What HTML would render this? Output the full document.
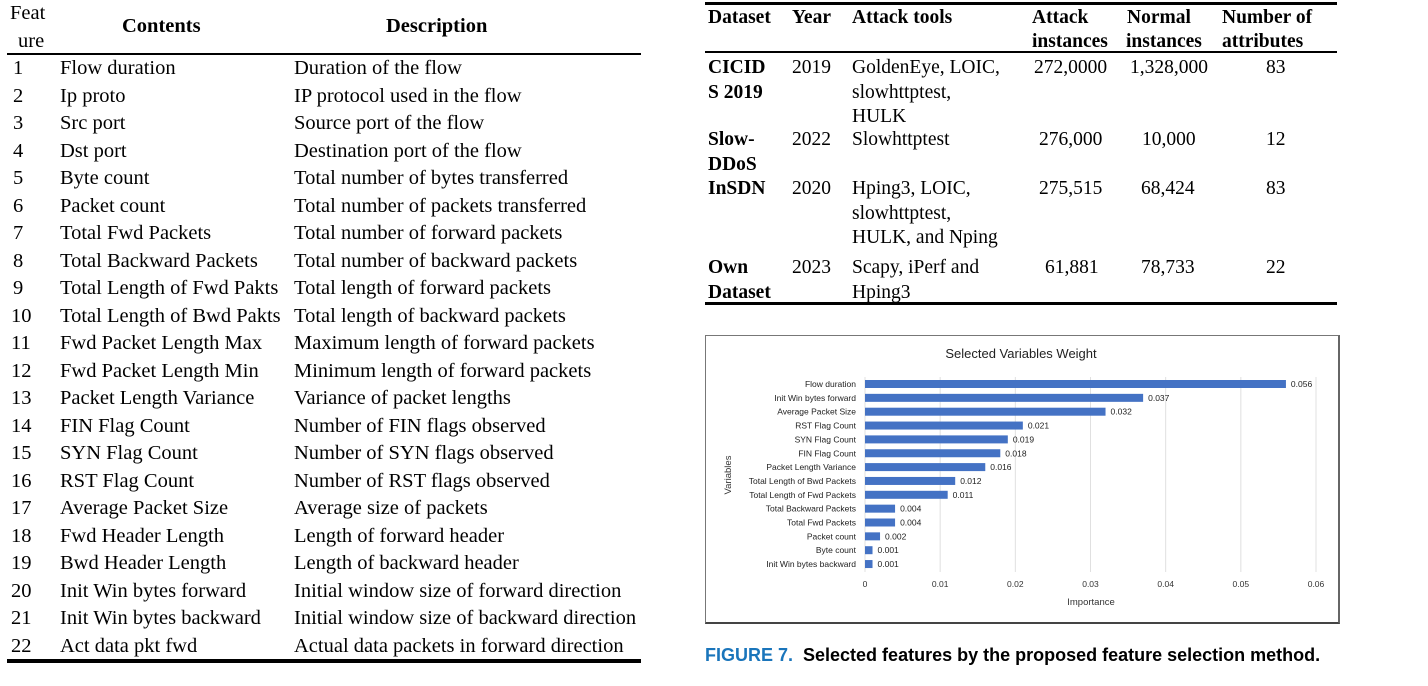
<!DOCTYPE html>
<html><head><meta charset="utf-8"><style>
body{margin:0;width:1428px;height:686px;background:#fff;position:relative;overflow:hidden;font-family:"Liberation Serif",serif;color:#000}
.a{position:absolute;white-space:nowrap;line-height:1}
.t{font-size:19.5px}
.tl{font-size:20.5px}
.b{font-weight:bold}
.rule{position:absolute;background:#000}
</style></head><body>
<div id="left-table"></div>
<div id="right-table"></div>
<div style="position:absolute;left:705px;top:335px;width:632px;height:286px;border:1px solid #777;border-bottom:2px solid #444;border-right:2px solid #666"></div>
<svg id="chart" width="1428" height="686" style="position:absolute;left:0;top:0"></svg>
<div class="a" style="left:705px;top:646px;font-family:'Liberation Sans Narrow','Liberation Sans',sans-serif;font-weight:bold;font-size:18px"><span style="color:#1a75bb">FIGURE 7.</span>&nbsp; Selected features by the proposed feature selection method.</div>
<script>
const features=["Flow duration","Ip proto","Src port","Dst port","Byte count","Packet count","Total Fwd Packets","Total Backward Packets","Total Length of Fwd Pakts","Total Length of Bwd Pakts","Fwd Packet Length Max","Fwd Packet Length Min","Packet Length Variance","FIN Flag Count","SYN Flag Count","RST Flag Count","Average Packet Size","Fwd Header Length","Bwd Header Length","Init Win bytes forward","Init Win bytes backward","Act data pkt fwd"];
const descs=["Duration of the flow","IP protocol used in the flow","Source port of the flow","Destination port of the flow","Total number of bytes transferred","Total number of packets transferred","Total number of forward packets","Total number of backward packets","Total length of forward packets","Total length of backward packets","Maximum length of forward packets","Minimum length of forward packets","Variance of packet lengths","Number of FIN flags observed","Number of SYN flags observed","Number of RST flags observed","Average size of packets","Length of forward header","Length of backward header","Initial window size of forward direction","Initial window size of backward direction","Actual data packets in forward direction"];
const categories=["Flow duration","Init Win bytes forward","Average Packet Size","RST Flag Count","SYN Flag Count","FIN Flag Count","Packet Length Variance","Total Length of Bwd Packets","Total Length of Fwd Packets","Total Backward Packets","Total Fwd Packets","Packet count","Byte count","Init Win bytes backward"];
const values=[0.056,0.037,0.032,0.021,0.019,0.018,0.016,0.012,0.011,0.004,0.004,0.002,0.001,0.001];
const ticks=[0,0.01,0.02,0.03,0.04,0.05,0.06];
const tickLabels=["0","0.01","0.02","0.03","0.04","0.05","0.06"];

function mk(parent,html,l,t,cls,name,extra){const d=document.createElement('div');d.className='a '+(cls||'');d.innerHTML=html;d.style.left=l+'px';d.style.top=t+'px';if(extra)d.style.cssText+=extra;


parent.appendChild(d);return d;}
const L=document.getElementById('left-table');
mk(L,'Feat',10,3,'tl','header-feature','');
mk(L,'ure',18,31,'tl','header-feature-2','');
mk(L,'Contents',122,16,'tl b','header-contents','');
mk(L,'Description',386,16,'tl b','header-description','');
mk(L,'',7,53,'rule','header-rule','width:634px;height:2px');
features.forEach((f,i)=>{const y=58+i*27.5;
mk(L,String(i+1),i<9?13:11,y,'tl','feature-number','');
mk(L,f,60,y,'tl','feature-content','');
mk(L,descs[i],294,y,'tl','feature-description','');});
mk(L,'',7,659,'rule','bottom-rule','width:634px;height:4px');

const R=document.getElementById('right-table');
mk(R,'',705,2,'rule','top-rule','width:632px;height:3px');
[["Dataset",708],["Year",792],["Attack tools",852],["Attack",1032],["Normal",1127],["Number of",1222]].forEach(h=>mk(R,h[0],h[1],8,'t b','header-'+h[0].toLowerCase().replace(/ /g,'-'),''));
[["instances",1032],["instances",1126],["attributes",1222]].forEach(h=>mk(R,h[0],h[1],32,'t b','header-'+h[0],''));
mk(R,'',705,51,'rule','header-rule','width:632px;height:2px');
const rows=[[58,["CICID","S 2019"],"2019",["GoldenEye, LOIC,","slowhttptest,","HULK"],"272,0000",1034,"1,328,000",1130,"83"],
[130,["Slow-","DDoS"],"2022",["Slowhttptest"],"276,000",1039,"10,000",1142,"12"],
[179,["InSDN"],"2020",["Hping3, LOIC,","slowhttptest,","HULK, and Nping"],"275,515",1039,"68,424",1141,"83"],
[258,["Own","Dataset"],"2023",["Scapy, iPerf and","Hping3"],"61,881",1045,"78,733",1141,"22"]];
rows.forEach(rw=>{const y=rw[0];
rw[1].forEach((s,k)=>mk(R,s,708,y+k*24.5,'t b','dataset-name',''));
mk(R,rw[2],792,y,'t','year','');
rw[3].forEach((s,k)=>mk(R,s,852,y+k*24.5,'t','attack-tools',''));
mk(R,rw[4],rw[5],y,'t','attack-instances','');
mk(R,rw[6],rw[7],y,'t','normal-instances','');
mk(R,rw[8],1266,y,'t','attributes','');});
mk(R,'',705,302,'rule','bottom-rule','width:632px;height:3px');

const svg=document.getElementById('chart');const NS='http://www.w3.org/2000/svg';
function el(tag,attrs,name,txt){const e=document.createElementNS(NS,tag);for(const k in attrs)e.setAttribute(k,attrs[k]);


if(txt!==undefined)e.textContent=txt;svg.appendChild(e);return e;}
const x0=865,x1=1316,vmax=0.06;const xs=v=>x0+v/vmax*(x1-x0);
const yTop=384,step=13.85;const ys=i=>yTop+i*step;
el('text',{x:1021,y:358,'text-anchor':'middle','font-family':'Liberation Sans, sans-serif','font-size':13,fill:'#222'},'chart-title','Selected Variables Weight');
ticks.forEach((t,i)=>{el('line',{x1:xs(t),x2:xs(t),y1:377,y2:572,stroke:'#e0e0e0','stroke-width':1},'gridline');
el('text',{x:xs(t),y:587,'text-anchor':'middle','font-family':'Liberation Sans, sans-serif','font-size':8.5,fill:'#333'},'x-tick-label',tickLabels[i]);});
categories.forEach((c,i)=>{const y=ys(i);
el('rect',{x:x0,y:y-4,width:xs(values[i])-x0,height:8,fill:'#4472c4'},'bar-'+c.toLowerCase().replace(/ /g,'-'));
el('text',{x:856,y:y+3,'text-anchor':'end','font-family':'Liberation Sans, sans-serif','font-size':8.5,fill:'#222'},'y-category-label',c);
el('text',{x:xs(values[i])+5,y:y+3,'font-family':'Liberation Sans, sans-serif','font-size':8.5,fill:'#222'},'bar-value-label',values[i].toFixed(3));});
el('text',{x:1091,y:605,'text-anchor':'middle','font-family':'Liberation Sans, sans-serif','font-size':9.5,fill:'#333'},'x-axis-title','Importance');
el('text',{x:731,y:475,'text-anchor':'middle','font-family':'Liberation Sans, sans-serif','font-size':9.5,fill:'#333',transform:'rotate(-90 731 475)'},'y-axis-title','Variables');
</script>
</body></html>
